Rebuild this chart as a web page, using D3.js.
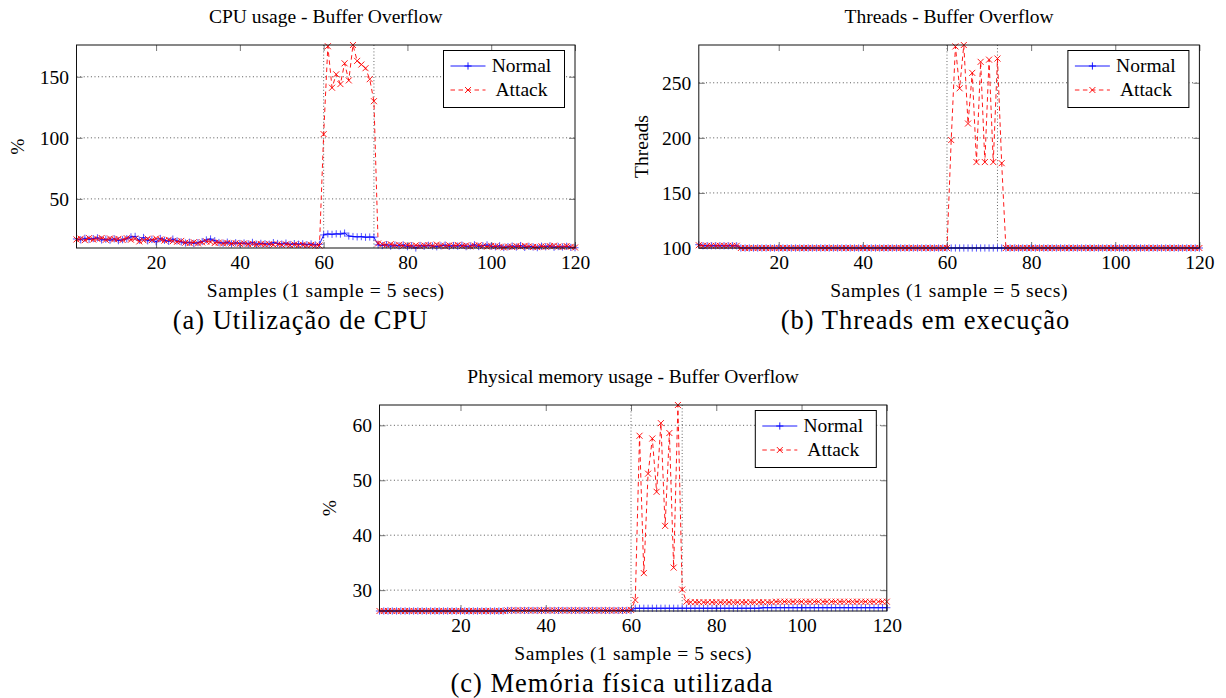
<!DOCTYPE html>
<html>
<head>
<meta charset="utf-8">
<script src="https://cdn.jsdelivr.net/npm/d3@7"></script>
<style>
  body { margin: 0; background: #fff; }
  text { font-family: "Liberation Serif", "Times New Roman", serif; fill: #000; }
</style>
</head>
<body>
<div id="container"></div>
<script>
/**
 * CONSTANTS AND DATA
 * */
const width = 1226, height = 698;

const samples = d3.range(1, 121);
const xTicks = [20, 40, 60, 80, 100, 120];
const attackMarks = [60, 72];
const legendLabels = ["Normal", "Attack"];

const cpuTicks = [50, 100, 150];
const cpuNormal = [
  17.2, 16.5, 17.8, 16.9, 17.5, 18.1, 16.4, 17.0, 16.2, 17.3,
  15.8, 16.6, 17.4, 18.9, 19.3, 16.2, 18.4, 15.7, 16.8, 14.9,
  17.6, 16.1, 15.3, 17.1, 15.6, 14.8, 13.9, 14.5, 13.6, 14.2,
  15.1, 16.4, 17.2, 15.8, 14.3, 13.7, 14.6, 13.2, 14.1, 13.5,
  13.9, 13.1, 14.4, 12.8, 13.6, 13.3, 12.9, 14.2, 13.5, 13.0,
  13.8, 12.7, 13.4, 12.9, 13.2, 12.5, 13.1, 12.3, 12.8, 20.5,
  21.3, 21.0, 21.4, 21.2, 22.0, 19.6, 19.2, 18.9, 19.1, 18.6,
  18.8, 18.7, 12.4, 11.8, 12.6, 11.3, 12.1, 11.5, 12.3, 10.9,
  11.7, 9.8, 11.9, 11.2, 12.0, 11.4, 10.8, 11.6, 12.2, 11.1,
  11.8, 11.3, 12.1, 10.9, 11.5, 12.4, 11.0, 11.7, 12.3, 11.2,
  10.8, 11.6, 10.2, 10.9, 11.4, 10.6, 11.8, 10.3, 11.1, 10.7,
  10.1, 11.3, 10.8, 11.5, 10.4, 11.0, 10.6, 11.2, 10.3, 10.0
];
const cpuAttack = [
  16.8, 17.4, 16.2, 17.9, 16.7, 17.2, 18.0, 16.5, 17.6, 16.9,
  17.3, 16.4, 17.8, 16.6, 17.5, 15.2, 16.1, 17.4, 16.3, 17.6,
  16.8, 15.9, 16.5, 15.4, 14.9, 15.6, 14.2, 13.8, 14.5, 13.6,
  14.4, 15.2, 14.8, 13.9, 14.3, 13.5, 14.0, 13.4, 13.8, 13.2,
  13.6, 12.9, 13.3, 12.7, 13.1, 12.6, 13.0, 12.5, 12.9, 12.4,
  12.8, 12.2, 12.7, 12.1, 12.5, 11.9, 12.3, 11.7, 11.8, 103,
  175, 141, 152, 144, 161, 147, 176, 163, 160, 157,
  148, 130, 13.5, 12.8, 12.2, 12.9, 11.8, 12.4, 11.6, 12.1,
  11.4, 12.0, 11.3, 11.9, 12.2, 11.5, 12.6, 11.8, 11.2, 12.0,
  11.6, 12.3, 11.4, 11.9, 11.1, 11.7, 12.1, 11.3, 10.9, 11.5,
  11.2, 10.8, 10.3, 11.0, 10.6, 11.4, 10.9, 11.6, 11.1, 10.7,
  10.5, 11.2, 10.8, 11.3, 11.7, 11.0, 10.6, 11.4, 10.8, 10.2
];

const threadTicks = [100, 150, 200, 250];
const threadNormal = [
  103, 102, 102, 102, 102, 102, 102, 102, 102, 102,
  100, 100, 100, 100, 100, 100, 100, 100, 100, 100,
  100, 100, 100, 100, 100, 100, 100, 100, 100, 100,
  100, 100, 100, 100, 100, 100, 100, 100, 100, 100,
  100, 100, 100, 100, 100, 100, 100, 100, 100, 100,
  100, 100, 100, 100, 100, 100, 100, 100, 100, 100,
  100, 100, 100, 100, 100, 100, 100, 100, 100, 100,
  100, 100, 100, 100, 100, 100, 100, 100, 100, 100,
  100, 100, 100, 100, 100, 100, 100, 100, 100, 100,
  100, 100, 100, 100, 100, 100, 100, 100, 100, 100,
  100, 100, 100, 100, 100, 100, 100, 100, 100, 100,
  100, 100, 100, 100, 100, 100, 100, 100, 100, 100
];
const threadAttack = [
  102.5, 102, 102, 102, 102, 102, 102, 102, 102, 102,
  100, 100, 100, 100, 100, 100, 100, 100, 100, 100,
  100, 100, 100, 100, 100, 100, 100, 100, 100, 100,
  100, 100, 100, 100, 100, 100, 100, 100, 100, 100,
  100, 100, 100, 100, 100, 100, 100, 100, 100, 100,
  100, 100, 100, 100, 100, 100, 100, 100, 100, 100,
  198, 283, 245, 284.3, 213, 259, 178, 269, 178, 271,
  178, 272, 177, 100, 100, 100, 100, 100, 100, 100,
  100, 100, 100, 100, 100, 100, 100, 100, 100, 100,
  100, 100, 100, 100, 100, 100, 100, 100, 100, 100,
  100, 100, 100, 100, 100, 100, 100, 100, 100, 100,
  100, 100, 100, 100, 100, 100, 100, 100, 100, 100
];

const memTicks = [30, 40, 50, 60];
const memNormal = [
  26.2, 26.2, 26.2, 26.2, 26.2, 26.2, 26.2, 26.2, 26.2, 26.2,
  26.2, 26.2, 26.2, 26.2, 26.2, 26.2, 26.2, 26.2, 26.2, 26.2,
  26.2, 26.2, 26.2, 26.2, 26.2, 26.2, 26.2, 26.2, 26.2, 26.2,
  26.3, 26.3, 26.3, 26.3, 26.3, 26.3, 26.3, 26.3, 26.3, 26.3,
  26.3, 26.3, 26.3, 26.3, 26.3, 26.3, 26.3, 26.3, 26.3, 26.3,
  26.3, 26.3, 26.3, 26.3, 26.3, 26.3, 26.3, 26.3, 26.3, 26.3,
  26.7, 26.7, 26.7, 26.7, 26.7, 26.7, 26.7, 26.7, 26.7, 26.7,
  26.7, 26.7, 26.7, 26.7, 26.7, 26.7, 26.7, 26.7, 26.7, 26.7,
  26.7, 26.7, 26.7, 26.7, 26.7, 26.7, 26.7, 26.7, 26.7, 26.7,
  26.8, 26.8, 26.8, 26.8, 26.8, 26.8, 26.8, 26.8, 26.8, 26.8,
  26.8, 26.8, 26.8, 26.8, 26.8, 26.8, 26.8, 26.8, 26.8, 26.8,
  26.8, 26.8, 26.8, 26.8, 26.8, 26.8, 26.8, 26.8, 26.8, 26.8
];
const memAttack = [
  26.2, 26.2, 26.2, 26.2, 26.2, 26.2, 26.2, 26.2, 26.2, 26.2,
  26.2, 26.2, 26.2, 26.2, 26.2, 26.2, 26.2, 26.2, 26.2, 26.2,
  26.2, 26.2, 26.2, 26.2, 26.2, 26.2, 26.2, 26.2, 26.2, 26.2,
  26.3, 26.3, 26.3, 26.3, 26.3, 26.3, 26.3, 26.3, 26.3, 26.3,
  26.3, 26.3, 26.3, 26.3, 26.3, 26.3, 26.3, 26.3, 26.3, 26.3,
  26.3, 26.3, 26.3, 26.3, 26.3, 26.3, 26.3, 26.3, 26.3, 26.4,
  28.2, 58.1, 33.1, 51.2, 57.6, 47.9, 60.4, 41.7, 58.6, 34.1,
  63.7, 30.1, 27.9, 27.8, 27.8, 27.8, 27.8, 27.8, 27.8, 27.8,
  27.8, 27.8, 27.8, 27.8, 27.8, 27.8, 27.8, 27.8, 27.8, 27.8,
  27.8, 27.8, 27.8, 27.9, 27.9, 27.9, 27.9, 27.9, 27.9, 27.9,
  27.9, 27.9, 27.9, 27.9, 27.9, 27.9, 27.9, 27.9, 27.9, 27.9,
  27.9, 27.9, 27.9, 27.9, 27.9, 27.9, 27.9, 27.9, 27.9, 27.9
];

// layout of the three panels (axis box in page pixels)
const panels = [
  { title: "CPU usage - Buffer Overflow", ylabel: "%", caption: "(a) Utilização de CPU",
    normal: cpuNormal, attack: cpuAttack, yTicks: cpuTicks,
    box: { x0: 76.5, x1: 575, y0: 45, y1: 248 }, ylabelX: 23.5, captionX: 300.5 },
  { title: "Threads - Buffer Overflow", ylabel: "Threads", caption: "(b) Threads em execução",
    normal: threadNormal, attack: threadAttack, yTicks: threadTicks,
    box: { x0: 698.8, x1: 1199.4, y0: 45, y1: 248 }, ylabelX: 647.5, captionX: 925.5 },
  { title: "Physical memory usage - Buffer Overflow", ylabel: "%", caption: "(c) Memória física utilizada",
    normal: memNormal, attack: memAttack, yTicks: memTicks,
    box: { x0: 379.5, x1: 886.8, y0: 405, y1: 611 }, ylabelX: 336, captionX: 612 }
];

const fs = 19.5;
const blue = "#0000ff", red = "#ff0000";

const svg = d3.select("#container")
  .append("svg")
  .attr("width", width)
  .attr("height", height);

const plusPath = "M-3.6,0H3.6M0,-3.6V3.6";
const crossPath = "M-3,-3L3,3M-3,3L3,-3";

function drawPanel(p) {
  const b = p.box;
  const g = svg.append("g");

  const x = d3.scaleLinear().domain([1, 120]).range([b.x0, b.x1]);
  const y = d3.scaleLinear()
    .domain(d3.extent(p.normal.concat(p.attack)))
    .range([b.y1, b.y0]);

  // y grid (dotted)
  g.selectAll(".grid")
    .data(p.yTicks)
    .join("line")
    .attr("x1", b.x0).attr("x2", b.x1)
    .attr("y1", d => y(d)).attr("y2", d => y(d))
    .attr("stroke", "#444")
    .attr("stroke-width", 0.9)
    .attr("stroke-dasharray", "1,2.6");

  // attack window marks
  g.selectAll(".mark")
    .data(attackMarks)
    .join("line")
    .attr("x1", d => x(d)).attr("x2", d => x(d))
    .attr("y1", b.y0).attr("y2", b.y1)
    .attr("stroke", "#555")
    .attr("stroke-width", 0.9)
    .attr("stroke-dasharray", "1,2.2");

  // axes: inward ticks on all four sides
  const xb = g.append("g")
    .attr("transform", `translate(0,${b.y1})`)
    .call(d3.axisBottom(x).tickValues(xTicks).tickSizeInner(-6).tickSizeOuter(0).tickPadding(7.2));
  const xt = g.append("g")
    .attr("transform", `translate(0,${b.y0})`)
    .call(d3.axisTop(x).tickValues(xTicks).tickSizeInner(-6).tickSizeOuter(0).tickFormat(""));
  const yl = g.append("g")
    .attr("transform", `translate(${b.x0},0)`)
    .call(d3.axisLeft(y).tickValues(p.yTicks).tickSizeInner(-6).tickSizeOuter(0).tickPadding(7.5));
  const yr = g.append("g")
    .attr("transform", `translate(${b.x1},0)`)
    .call(d3.axisRight(y).tickValues(p.yTicks).tickSizeInner(-6).tickSizeOuter(0).tickFormat(""));

  [xb, xt, yl, yr].forEach(a => {
    a.select(".domain").remove();
    a.selectAll(".tick line").attr("stroke", "#666").attr("stroke-width", 0.9);
    a.selectAll("text")
      .style("font-family", "Liberation Serif, serif")
      .style("font-size", fs + "px")
      .attr("fill", "#000");
  });

  // series
  const line = d3.line()
    .x((d, i) => x(samples[i]))
    .y(d => y(d));

  g.append("path")
    .datum(p.normal)
    .attr("d", line)
    .attr("fill", "none")
    .attr("stroke", blue)
    .attr("stroke-width", 0.9);

  g.selectAll(".pn")
    .data(p.normal)
    .join("path")
    .attr("d", plusPath)
    .attr("transform", (d, i) => `translate(${x(samples[i])},${y(d)})`)
    .attr("stroke", blue)
    .attr("stroke-width", 0.9)
    .attr("stroke-opacity", 0.75);

  g.append("path")
    .datum(p.attack)
    .attr("d", line)
    .attr("fill", "none")
    .attr("stroke", red)
    .attr("stroke-width", 0.9)
    .attr("stroke-dasharray", "4.5,3.5");

  g.selectAll(".pa")
    .data(p.attack)
    .join("path")
    .attr("d", crossPath)
    .attr("transform", (d, i) => `translate(${x(samples[i])},${y(d)})`)
    .attr("stroke", red)
    .attr("stroke-width", 0.9);

  // axis box
  g.append("rect")
    .attr("x", b.x0).attr("y", b.y0)
    .attr("width", b.x1 - b.x0).attr("height", b.y1 - b.y0)
    .attr("fill", "none")
    .attr("stroke", "#111")
    .attr("stroke-width", 1);

  // legend
  const lw = 121, lh = 57;
  const lx = b.x1 - 10.5 - lw, ly = b.y0 + 5.5;
  const leg = g.append("g").attr("transform", `translate(${lx},${ly})`);
  leg.append("rect")
    .attr("width", lw).attr("height", lh)
    .attr("fill", "#fff")
    .attr("stroke", "#000")
    .attr("stroke-width", 1);
  const entries = leg.selectAll(".entry")
    .data(legendLabels)
    .join("g")
    .attr("transform", (d, i) => `translate(0,${15.5 + i * 24})`);
  entries.append("line")
    .attr("x1", 7).attr("x2", 42)
    .attr("stroke", (d, i) => i === 0 ? blue : red)
    .attr("stroke-width", 0.9)
    .attr("stroke-dasharray", (d, i) => i === 0 ? null : "4.5,3.5");
  entries.append("path")
    .attr("d", (d, i) => i === 0 ? plusPath : crossPath)
    .attr("transform", "translate(24.5,0)")
    .attr("stroke", (d, i) => i === 0 ? blue : red)
    .attr("stroke-width", 0.9);
  entries.append("text")
    .attr("x", 78).attr("y", 6.3)
    .attr("text-anchor", "middle")
    .style("font-size", fs + "px")
    .text(d => d);

  // texts
  const cx = (b.x0 + b.x1) / 2;
  g.append("text")
    .attr("x", cx).attr("y", b.y0 - 22)
    .attr("text-anchor", "middle")
    .style("font-size", fs + "px")
    .text(p.title);
  g.append("text")
    .attr("x", cx).attr("y", b.y1 + 49)
    .attr("text-anchor", "middle")
    .style("font-size", fs + "px")
    .style("letter-spacing", "0.6px")
    .text("Samples (1 sample = 5 secs)");
  g.append("text")
    .attr("transform", `translate(${p.ylabelX},${(b.y0 + b.y1) / 2}) rotate(-90)`)
    .attr("text-anchor", "middle")
    .style("font-size", fs + "px")
    .text(p.ylabel);
  g.append("text")
    .attr("x", p.captionX).attr("y", b.y1 + 80.5)
    .attr("text-anchor", "middle")
    .style("font-size", "26.5px")
    .style("letter-spacing", "1px")
    .text(p.caption);
}

panels.forEach(drawPanel);
</script>
</body>
</html>
